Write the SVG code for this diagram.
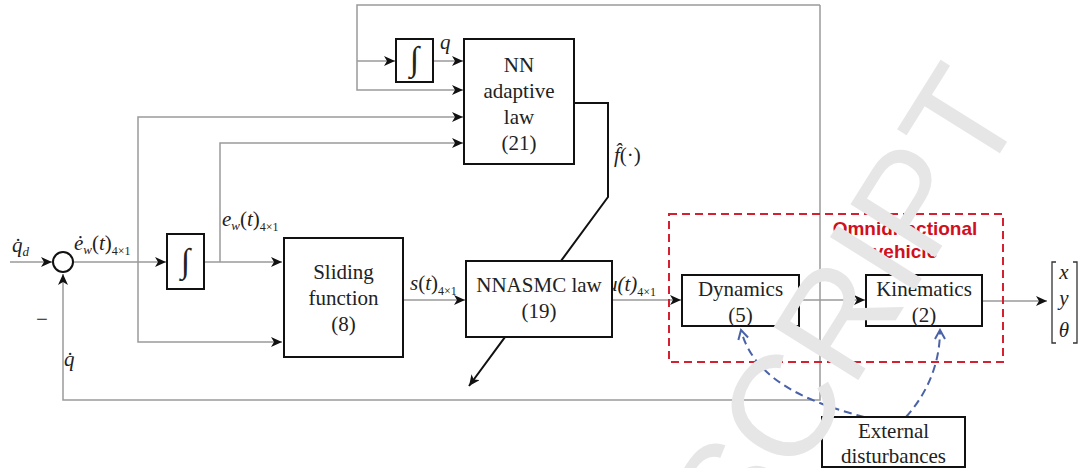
<svg xmlns="http://www.w3.org/2000/svg" width="1080" height="468" viewBox="0 0 1080 468">
<defs>
<marker id="ah" markerUnits="userSpaceOnUse" markerWidth="12" markerHeight="10" refX="11" refY="5" orient="auto">
<path d="M0,0 L11,5 L0,10 L3,5 Z" fill="#111"/>
</marker>
<marker id="ahb" markerUnits="userSpaceOnUse" markerWidth="12" markerHeight="12" refX="10" refY="6" orient="auto">
<path d="M1,1 L10,6 L1,11" fill="none" stroke="#4a62a8" stroke-width="2"/>
</marker>
<style>
.c{fill:none;stroke:#9a9a9a;stroke-width:1.5}
.ck{fill:none;stroke:#111;stroke-width:2}
.box{fill:#fff;stroke:#111;stroke-width:2}
.t{font-family:"Liberation Serif","Times New Roman",serif;font-size:21px;fill:#222;text-anchor:middle}
.int{font-family:"Liberation Serif","Times New Roman",serif;font-size:34px;fill:#222;text-anchor:middle}
.m{font-family:"Liberation Serif","Times New Roman",serif;font-size:21px;fill:#222;font-style:italic}
.u{font-style:normal}
.sub{font-size:13px}
.sm{font-size:12px;font-style:normal}
.red{font-family:"Liberation Sans",Arial,sans-serif;font-size:19px;font-weight:bold;fill:#d0101e;text-anchor:middle}
.wm{font-family:"Liberation Sans",Arial,sans-serif;font-size:145px;fill:#e6e6e6;text-anchor:end}
</style>
</defs>
<rect width="1080" height="468" fill="#fff"/>

<g id="connectors">
<path class="c" d="M10,262 H52" marker-end="url(#ah)"/>
<path class="c" d="M74,262 H166" marker-end="url(#ah)"/>
<path class="c" d="M138,262 V342 H282" marker-end="url(#ah)"/>
<path class="c" d="M138,262 V117 H463" marker-end="url(#ah)"/>
<path class="c" d="M204,262 H282" marker-end="url(#ah)"/>
<path class="c" d="M220,262 V143 H463" marker-end="url(#ah)"/>
<path class="c" d="M403,300 H465" marker-end="url(#ah)"/>
<path class="c" d="M612,300 H681" marker-end="url(#ah)"/>
<path class="c" d="M799,300 H865" marker-end="url(#ah)"/>
<path class="c" d="M982,301 H1047" marker-end="url(#ah)"/>
<path class="c" d="M820,5 V400 H63 V274" marker-end="url(#ah)"/>
<path class="c" d="M820,5 H357 V90 H463" marker-end="url(#ah)"/>
<path class="c" d="M357,61 H395" marker-end="url(#ah)"/>
<path class="c" d="M433,61 H463" marker-end="url(#ah)"/>
<path class="ck" d="M574,103 H608 V197 L469,386" marker-end="url(#ah)"/>
<path d="M864,417 C820,405 755,385 741,330" fill="none" stroke="#4a62a8" stroke-width="2" stroke-dasharray="8 5" marker-end="url(#ahb)"/>
<path d="M906,417 C930,390 940,360 940,330" fill="none" stroke="#4a62a8" stroke-width="2" stroke-dasharray="8 5" marker-end="url(#ahb)"/>
</g>

<g id="sum">
<circle cx="63" cy="262" r="10" fill="#fff" stroke="#111" stroke-width="2"/>
</g>

<g id="int1">
<rect class="box" x="167" y="234" width="37" height="55"/>
<text class="int" x="185.5" y="272">∫</text>
</g>

<g id="int2">
<rect class="box" x="396" y="39" width="37" height="43"/>
<text class="int" x="414.5" y="70">∫</text>
</g>

<g id="nnlaw">
<rect class="box" x="464" y="39" width="110" height="125"/>
<text class="t" x="519" y="72">NN</text>
<text class="t" x="519" y="98">adaptive</text>
<text class="t" x="519" y="124">law</text>
<text class="t" x="519" y="150">(21)</text>
</g>

<g id="sliding">
<rect class="box" x="284" y="238" width="119" height="119"/>
<text class="t" x="343.5" y="279">Sliding</text>
<text class="t" x="343.5" y="305">function</text>
<text class="t" x="343.5" y="331">(8)</text>
</g>

<g id="labels">
<text class="m" x="607" y="291">u(t)<tspan class="sm" dy="5">4×1</tspan></text>
</g>

<g id="nnasmc">
<rect class="box" x="466" y="261" width="146" height="76"/>
<text class="t" x="539" y="292">NNASMC law</text>
<text class="t" x="539" y="318">(19)</text>
</g>

<g id="vehicle">
<rect x="669" y="214" width="334" height="148" fill="none" stroke="#d42030" stroke-width="2" stroke-dasharray="8 5"/>
<text class="red" x="905" y="235">Omnidirectional</text>
<text class="red" x="905" y="258">vehicle</text>
</g>

<g id="dynamics">
<rect class="box" x="682" y="275" width="117" height="51"/>
<text class="t" x="740.5" y="296">Dynamics</text>
<text class="t" x="740.5" y="322">(5)</text>
</g>

<g id="kinematics">
<rect class="box" x="866" y="275" width="116" height="51"/>
<text class="t" x="924" y="296">Kinematics</text>
<text class="t" x="924" y="322">(2)</text>
</g>

<g id="external">
<rect class="box" x="822" y="417" width="143" height="50"/>
<text class="t" x="893.5" y="438">External</text>
<text class="t" x="893.5" y="463">disturbances</text>
</g>

<g id="output">
<path d="M1056,262 H1052 V343 H1056 M1073,262 H1077 V343 H1073" fill="none" stroke="#333" stroke-width="1.3"/>
<text class="m" x="1064" y="279" text-anchor="middle">x</text>
<text class="m" x="1064" y="305" text-anchor="middle">y</text>
<text class="m" x="1064" y="337" text-anchor="middle">θ</text>
</g>

<g id="text-labels">
<text class="m" x="12" y="252">q̇<tspan class="sub" dy="4">d</tspan></text>
<text class="m" x="74" y="250">ė<tspan class="sub" dy="4">w</tspan><tspan class="u" dy="-4">(</tspan>t<tspan class="u">)</tspan><tspan class="sm" dy="5">4×1</tspan></text>
<text class="m" x="222" y="226">e<tspan class="sub" dy="4">w</tspan><tspan class="u" dy="-4">(</tspan>t<tspan class="u">)</tspan><tspan class="sm" dy="5">4×1</tspan></text>
<text class="m" x="410" y="290">s<tspan class="u">(</tspan>t<tspan class="u">)</tspan><tspan class="sm" dy="5">4×1</tspan></text>
<text class="m" x="440" y="49">q</text>
<text class="m" x="614" y="162">f̂<tspan class="u">(·)</tspan></text>
<text class="m" x="64" y="366">q̇</text>
<text class="t" x="42" y="326">−</text>
</g>

<g id="watermark">
<text class="wm" transform="translate(1027,110) rotate(-58)">SCRIPT</text>
</g>
</svg>
